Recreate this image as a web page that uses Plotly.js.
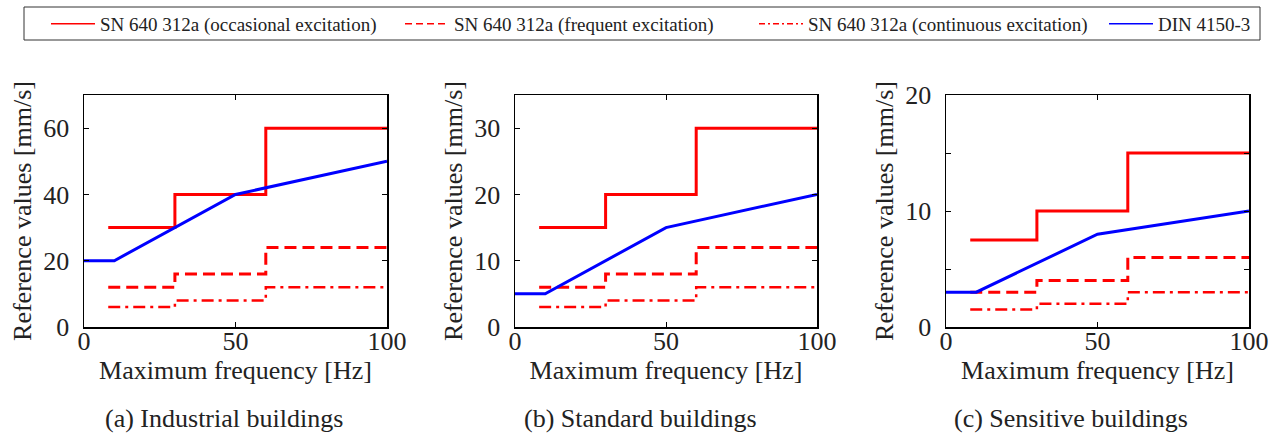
<!DOCTYPE html>
<html><head><meta charset="utf-8">
<script src="https://cdn.plot.ly/plotly-3.0.1.min.js"></script>
<style>html,body{margin:0;padding:0;background:#fff}#chart{width:1275px;height:434px}</style>
</head><body><div id="chart"></div>
<script>
// Frequency break points
const stepX = [8, 30, 30, 60, 60, 100];
const dinX = [0, 10, 50, 100];

// (a) Industrial buildings
const indOcc = [30, 30, 40, 40, 60, 60];
const indFreq = [12, 12, 16, 16, 24, 24];
const indCont = [6, 6, 8, 8, 12, 12];
const indDin = [20, 20, 40, 50];

// (b) Standard buildings
const stdOcc = [15, 15, 20, 20, 30, 30];
const stdFreq = [6, 6, 8, 8, 12, 12];
const stdCont = [3, 3, 4, 4, 6, 6];
const stdDin = [5, 5, 15, 20];

// (c) Sensitive buildings
const senOcc = [7.5, 7.5, 10, 10, 15, 15];
const senFreq = [3, 3, 4, 4, 6, 6];
const senCont = [1.5, 1.5, 2, 2, 3, 3];
const senDin = [3, 3, 8, 10];

const seriesNames = ['SN 640 312a (occasional excitation)', 'SN 640 312a (frequent excitation)', 'SN 640 312a (continuous excitation)', 'DIN 4150-3'];
const captions = ['(a) Industrial buildings', '(b) Standard buildings', '(c) Sensitive buildings'];
const yRanges = [[0, 70], [0, 35], [0, 20]];
const yDticks = [20, 10, 10];

const RED = '#ff0000', BLUE = '#0000ff';
const FONT = 'Liberation Serif';

const panels = [
  [indOcc, indFreq, indCont, indDin],
  [stdOcc, stdFreq, stdCont, stdDin],
  [senOcc, senFreq, senCont, senDin]
];
const styles = [
  {color: RED, width: 3, dash: 'solid'},
  {color: RED, width: 3, dash: '12px,6px'},
  {color: RED, width: 2.5, dash: '12px,5px,3px,5px'},
  {color: BLUE, width: 3, dash: 'solid'}
];
const legendDash = ['solid', '7px,4px', '6px,3px,2px,3px', 'solid'];

const traces = [];
panels.forEach((p, i) => {
  const xa = i === 0 ? 'x' : 'x' + (i + 1);
  const ya = i === 0 ? 'y' : 'y' + (i + 1);
  p.forEach((vals, k) => {
    traces.push({
      x: k === 3 ? dinX : stepX, y: vals, type: 'scatter', mode: 'lines',
      line: styles[k], xaxis: xa, yaxis: ya, showlegend: false, hoverinfo: 'skip'
    });
  });
});
seriesNames.forEach((n, k) => {
  traces.push({
    x: [null], y: [null], type: 'scatter', mode: 'lines', name: n,
    line: {color: styles[k].color, width: 1.5, dash: legendDash[k]},
    xaxis: 'x', yaxis: 'y', showlegend: true,
    legend: k === 3 ? 'legend2' : 'legend'
  });
});

const xDomains = [[84/1275, 387/1275], [515/1275, 817/1275], [946/1275, 1249/1275]];
const captionX = [224/1275, 640/1275, 1071/1275];
const yDomain = [1 - 327/434, 1 - 95/434];
const legFont = {family: FONT, size: 19, color: '#222'};
const txtCol = '#222';

const layout = {
  width: 1275, height: 434,
  margin: {l: 0, r: 0, t: 0, b: 0},
  paper_bgcolor: '#fff', plot_bgcolor: '#fff',
  font: {family: FONT, color: txtCol, size: 20},
  showlegend: true,
  legend: {
    orientation: 'h', x: 46/1275, xanchor: 'left', y: 1 - 24/434, yanchor: 'middle',
    borderwidth: 0, bgcolor: 'rgba(0,0,0,0)', font: legFont, itemwidth: 44,
    entrywidth: 295, entrywidthmode: 'pixels'
  },
  legend2: {
    orientation: 'h', x: 1104/1275, xanchor: 'left', y: 1 - 24/434, yanchor: 'middle',
    borderwidth: 0, bgcolor: 'rgba(0,0,0,0)', font: legFont, itemwidth: 44
  },
  shapes: [{
    type: 'rect', xref: 'paper', yref: 'paper',
    x0: 24/1275, x1: 1260/1275, y0: 1 - 40/434, y1: 1 - 7/434,
    line: {color: '#333', width: 1}, fillcolor: 'rgba(0,0,0,0)', layer: 'below'
  }],
  annotations: captions.map((c, i) => ({
    text: c, xref: 'paper', yref: 'paper',
    x: captionX[i], y: 1 - 418/434,
    xanchor: 'center', yanchor: 'middle', showarrow: false,
    font: {family: FONT, size: 26, color: txtCol}
  }))
};

for (let i = 0; i < 3; i++) {
  const sfx = i === 0 ? '' : String(i + 1);
  layout['xaxis' + sfx] = {
    domain: xDomains[i], range: [0, 100], anchor: 'y' + sfx,
    tickvals: [0, 50, 100], ticks: 'inside', ticklen: 5, tickcolor: '#000',
    showline: true, linecolor: '#000', linewidth: 1.5, mirror: 'ticks',
    showgrid: false, zeroline: false, fixedrange: true,
    ticklabelstandoff: -10,
    tickfont: {family: FONT, size: 26, color: txtCol},
    title: {text: 'Maximum frequency [Hz]', font: {family: FONT, size: 26, color: txtCol}, standoff: 0}
  };
  layout['yaxis' + sfx] = {
    domain: yDomain, range: yRanges[i], anchor: 'x' + sfx,
    dtick: yDticks[i], tick0: 0, ticks: 'inside', ticklen: 5, tickcolor: '#000',
    showline: true, linecolor: '#000', linewidth: 1.5, mirror: 'ticks',
    showgrid: false, zeroline: false, fixedrange: true,
    ticklabelstandoff: 8,
    minor: i === 2 ? {dtick: 5, ticks: 'inside', ticklen: 5, tickcolor: '#000', showgrid: false} : undefined,
    tickfont: {family: FONT, size: 26, color: txtCol},
    title: {text: 'Reference values [mm/s]', font: {family: FONT, size: 26, color: txtCol}, standoff: 4}
  };
}

Plotly.newPlot('chart', traces, layout, {displayModeBar: false, staticPlot: true});
</script>
</body></html>
